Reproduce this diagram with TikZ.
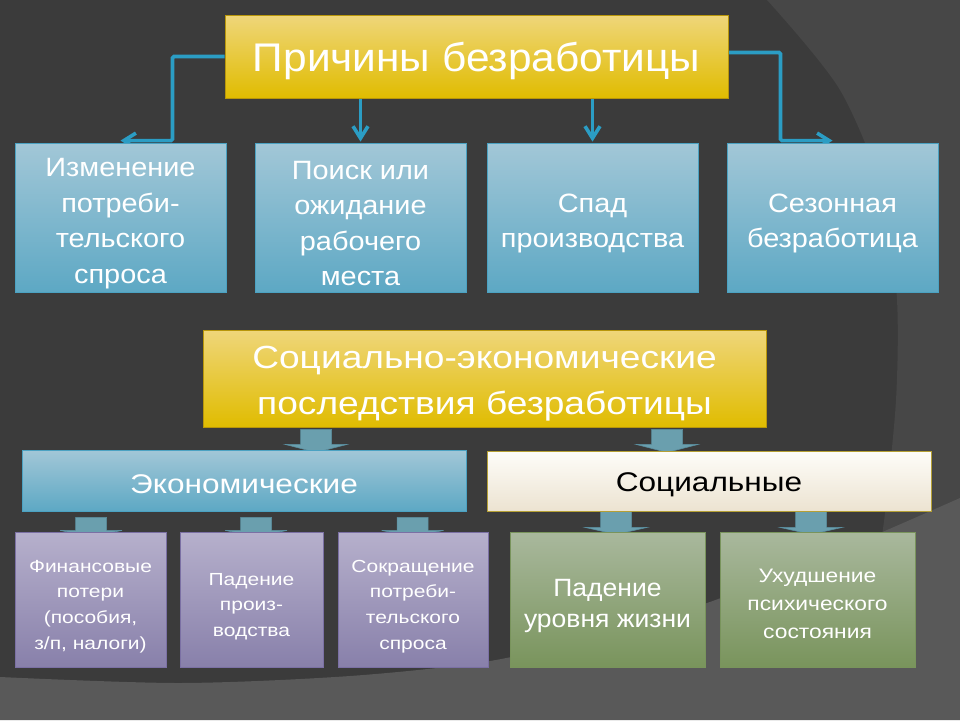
\documentclass[tikz,border=0pt]{standalone}
\usepackage{fontspec}
\setmainfont{Liberation Sans}
\newfontfamily\famA[FakeStretch=1.06]{Liberation Sans}
\newfontfamily\famB[FakeStretch=1.09]{Liberation Sans}
\newfontfamily\famC[FakeStretch=1.16]{Liberation Sans}
\newfontfamily\famD[FakeStretch=1.17]{Liberation Sans}
\newfontfamily\famE[FakeStretch=1.2]{Liberation Sans}
\newfontfamily\famF[FakeStretch=1.06]{Liberation Sans}
\newfontfamily\famG[FakeStretch=1.17]{Liberation Sans}
\usetikzlibrary{arrows.meta,calc}
\pgfdeclarelayer{bgl}\pgfdeclarelayer{conl}\pgfsetlayers{bgl,conl,main}
\definecolor{bgdark}{HTML}{3B3B3B}
\definecolor{bgmid}{HTML}{474747}
\definecolor{bglight}{HTML}{595959}
\definecolor{conncol}{HTML}{2B9DC4}
\definecolor{ytop}{HTML}{EFD67A}
\definecolor{ybot}{HTML}{E0BC00}
\definecolor{yedge}{HTML}{B8960A}
\definecolor{btop}{HTML}{A2C7D7}
\definecolor{bbot}{HTML}{5DA8C4}
\definecolor{bedge}{HTML}{4BA2C2}
\definecolor{ptop}{HTML}{B6B0CC}
\definecolor{pbot}{HTML}{8880AA}
\definecolor{pedge}{HTML}{7B70A4}
\definecolor{gtop}{HTML}{A9B89D}
\definecolor{gbot}{HTML}{79945C}
\definecolor{stop}{HTML}{FEFDF9}
\definecolor{sbot}{HTML}{ECE3D1}
\definecolor{sedge}{HTML}{B5A035}
\definecolor{arrfill}{HTML}{6A9FAE}
\definecolor{arredge}{HTML}{5A8E9F}
% #1 anchor, #2 x offset, #3 gap, #4 shaft length, #5 head length
\newcommand\blockarr[5]{%
  \filldraw[barr] ($(#1)+(#2-15.5,#3)$) -- ++(31,0) -- ++(0,#4) -- ++(15.5,0)
    -- ++(-31,#5) -- ++(-31,-#5) -- ++(15.5,0) -- cycle;}
\begin{document}
\begin{tikzpicture}[x=1pt,y=-1pt,
  every node/.style={inner sep=0pt, align=center},
  box/.style={rectangle, line width=0.8pt},
  lb/.style={text=white},
  yellowbox/.style={box, draw=yedge, top color=ytop, bottom color=ybot},
  bluebox/.style={box, draw=bedge, top color=btop, bottom color=bbot},
  purplebox/.style={box, draw=pedge, top color=ptop, bottom color=pbot},
  greenbox/.style={box, draw=gbot, top color=gtop, bottom color=gbot},
  socbox/.style={box, draw=sedge, top color=stop, bottom color=sbot},
  conn/.style={draw=conncol, line width=3.6pt, rounded corners=1.5pt,
    -{Straight Barb[length=12pt,width=15pt]}},
  barr/.style={fill=arrfill, draw=arredge, line width=0.6pt, line join=miter},
  fA/.style={font=\famA\fontsize{40}{46}\selectfont, yshift=-4pt},
  fB/.style={font=\famB\fontsize{26.5}{35.5}\selectfont, yshift=-6pt},
  fC/.style={font=\famC\fontsize{32}{46}\selectfont, yshift=-5pt},
  fD/.style={font=\famD\fontsize{27}{32}\selectfont, yshift=-4pt},
  fE/.style={font=\famE\fontsize{17.5}{25.7}\selectfont, yshift=-7pt},
  fF/.style={font=\famF\fontsize{25}{31}\selectfont, yshift=-6pt},
  fG/.style={font=\famG\fontsize{19.5}{28}\selectfont, yshift=-4pt}]
\useasboundingbox (0,0) rectangle (960,720);
\begin{pgfonlayer}{bgl}
  \fill[bgdark] (0,0) rectangle (960,720);
  \fill[bgmid] (767,0) plot[smooth] coordinates {(767,0) (840,90) (885,200) (897,300) (896,400) (885,513) (878,560)}
     -- (960,560) -- (960,0) -- cycle;
  \fill[bglight] plot[smooth] coordinates {(0,677) (180,683) (350,676) (490,661) (600,635) (707,603) (800,566) (880,533) (960,498)}
     -- (960,720) -- (0,720) -- cycle;
\end{pgfonlayer}

% top level
\node[yellowbox, minimum width=503pt, minimum height=83pt,
  label={[lb,fA]center:Причины безработицы}] (t1) at (476.5,56.5) {};
\node[bluebox, minimum width=211pt, minimum height=149pt,
  label={[lb,fB]center:{Изменение\\потреби-\\тельского\\спроса}}] (b1) at (120.5,217.5) {};
\node[bluebox, minimum width=211pt, minimum height=149pt,
  label={[lb,fB]center:{Поиск или\\ожидание\\рабочего\\места}}] (b2) at (360.5,217.5) {};
\node[bluebox, minimum width=211pt, minimum height=149pt,
  label={[lb,fB]center:{Спад\\производства}}] (b3) at (592.5,217.5) {};
\node[bluebox, minimum width=211pt, minimum height=149pt,
  label={[lb,fB]center:{Сезонная\\безработица}}] (b4) at (832.5,217.5) {};

% second level
\node[yellowbox, minimum width=563pt, minimum height=97pt,
  label={[lb,fC]center:{Социально-экономические\\последствия безработицы}}] (t2) at (484.5,378.5) {};
\node[bluebox, minimum width=444pt, minimum height=61pt,
  label={[lb,fD]center:Экономические}] (econ) at (244,480.5) {};
\node[socbox, minimum width=444pt, minimum height=60pt,
  label={[text=black,fD]center:Социальные}] (soc) at (709,481) {};

\node[purplebox, minimum width=151pt, minimum height=135pt,
  label={[lb,fE]center:{Финансовые\\потери\\(пособия,\\з/п, налоги)}}] (pa) at (90.5,599.5) {};
\node[purplebox, minimum width=143pt, minimum height=135pt,
  label={[lb,fE]center:{Падение\\произ-\\водства}}] (pb) at (251.5,599.5) {};
\node[purplebox, minimum width=150pt, minimum height=135pt,
  label={[lb,fE]center:{Сокращение\\потреби-\\тельского\\спроса}}] (pc) at (413,599.5) {};
\node[greenbox, minimum width=195pt, minimum height=135pt,
  label={[lb,fF]center:{Падение\\уровня жизни}}] (ga) at (607.5,599.5) {};
\node[greenbox, minimum width=195pt, minimum height=135pt,
  label={[lb,fG]center:{Ухудшение\\психического\\состояния}}] (gb) at (817.5,599.5) {};

\begin{pgfonlayer}{conl}
  \draw[conn] (t1.west) -| ([xshift=52pt,yshift=2pt]b1.north) -- ([yshift=2pt]b1.north);
  \draw[conn] ([yshift=4pt]t1.east) -| ([xshift=-52pt,yshift=2pt]b4.north) -- ([yshift=2pt]b4.north);
  \draw[conn] (t1.south -| b2.north) -- ([yshift=1pt]b2.north);
  \draw[conn] (t1.south -| b3.north) -- ([yshift=1pt]b3.north);
  \blockarr{t2.south west}{113.5}{2}{15}{8}
  \blockarr{t2.south west}{464.5}{2}{15}{8}
  \blockarr{econ.south west}{69.5}{6}{13}{6}
  \blockarr{econ.south west}{234.5}{6}{13}{6}
  \blockarr{econ.south west}{391}{6}{13}{6}
  \blockarr{soc.south west}{129.5}{0}{16}{7}
  \blockarr{soc.south west}{324.5}{0}{16}{7}
\end{pgfonlayer}
\end{tikzpicture}
\end{document}
